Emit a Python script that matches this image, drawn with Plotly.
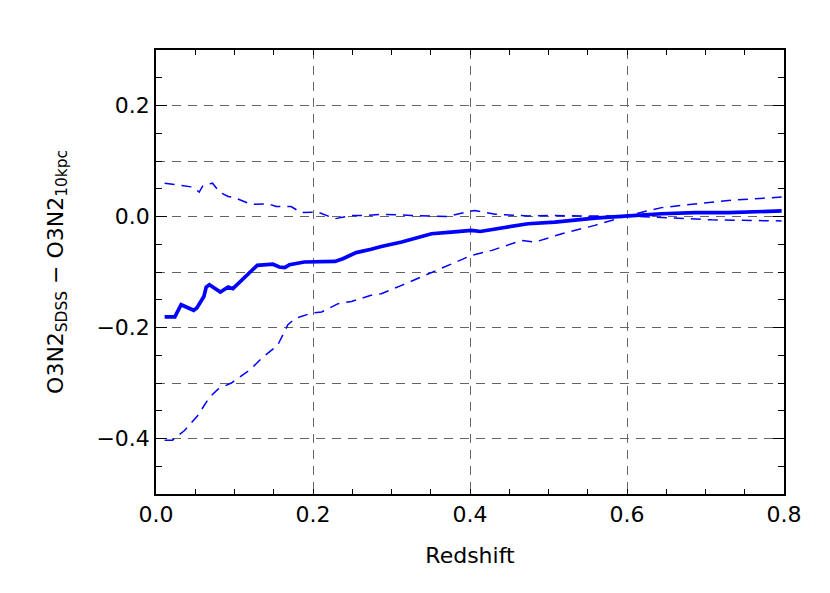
import plotly.graph_objects as go

# median difference vs redshift
z_med = [0.011, 0.024, 0.032, 0.048, 0.052, 0.061, 0.064, 0.068, 0.082, 0.092, 0.098,
         0.129, 0.149, 0.157, 0.164, 0.170, 0.189, 0.228, 0.238, 0.245, 0.255, 0.274,
         0.287, 0.313, 0.351, 0.376, 0.402, 0.413, 0.444, 0.474, 0.508, 0.542, 0.559,
         0.602, 0.644, 0.687, 0.729, 0.797]
d_med = [-0.181, -0.181, -0.159, -0.169, -0.165, -0.144, -0.127, -0.123, -0.136, -0.127, -0.130,
         -0.088, -0.086, -0.091, -0.092, -0.087, -0.082, -0.081, -0.076, -0.072, -0.065, -0.059,
         -0.054, -0.046, -0.031, -0.028, -0.025, -0.027, -0.020, -0.013, -0.010, -0.005, -0.003,
         0.001, 0.005, 0.007, 0.007, 0.010]

# upper envelope
z_up = [0.011, 0.036, 0.047, 0.055, 0.060, 0.072, 0.081, 0.092, 0.100, 0.121, 0.143,
        0.153, 0.172, 0.185, 0.206, 0.228, 0.249, 0.270, 0.287, 0.325, 0.372, 0.389,
        0.406, 0.432, 0.474, 0.500, 0.542, 0.602, 0.644, 0.708, 0.797]
d_up = [0.060, 0.056, 0.053, 0.044, 0.056, 0.060, 0.044, 0.036, 0.034, 0.022, 0.023,
        0.018, 0.018, 0.007, 0.008, -0.004, 0.002, 0.002, 0.004, 0.002, 0.000, 0.006,
        0.011, 0.004, 0.001, 0.002, 0.001, 0.001, -0.002, -0.006, -0.008]

# lower envelope
z_lo = [0.011, 0.021, 0.036, 0.053, 0.068, 0.079, 0.096, 0.121, 0.134, 0.155, 0.168,
        0.177, 0.198, 0.211, 0.232, 0.249, 0.274, 0.287, 0.313, 0.347, 0.381, 0.402,
        0.428, 0.453, 0.466, 0.483, 0.517, 0.559, 0.602, 0.644, 0.687, 0.729, 0.797]
d_lo = [-0.403, -0.403, -0.386, -0.359, -0.326, -0.311, -0.300, -0.275, -0.256, -0.232, -0.195,
        -0.184, -0.174, -0.172, -0.157, -0.153, -0.142, -0.139, -0.124, -0.103, -0.082, -0.070,
        -0.061, -0.049, -0.043, -0.046, -0.031, -0.016, 0.002, 0.016, 0.023, 0.029, 0.035]

y_grid = [-0.4, -0.3, -0.2, -0.1, 0.0, 0.1, 0.2]
y_ticks = [-0.4, -0.2, 0.0, 0.2]
y_labels = ["\u22120.4", "\u22120.2", "0.0", "0.2"]
x_ticks = [0.0, 0.2, 0.4, 0.6, 0.8]
x_labels = ["0.0", "0.2", "0.4", "0.6", "0.8"]

font = dict(family="DejaVu Sans", size=22, color="black")
blue = "#0000ff"
grid = dict(showgrid=True, gridcolor="#666666", gridwidth=1, griddash="9px,7px")

fig = go.Figure()
fig.add_trace(go.Scatter(x=z_up, y=d_up, mode="lines", yaxis="y2",
                         line=dict(color=blue, width=1.5, dash="10px,7px")))
fig.add_trace(go.Scatter(x=z_lo, y=d_lo, mode="lines",
                         line=dict(color=blue, width=1.5, dash="10px,7px")))
fig.add_trace(go.Scatter(x=z_med, y=d_med, mode="lines",
                         line=dict(color=blue, width=3.7)))

fig.update_layout(
    xaxis=dict(range=[0, 0.8], tickvals=x_ticks, ticktext=x_labels,
               showline=True, linecolor="black", linewidth=1.5, mirror="ticks",
               ticks="inside", ticklen=5, tickwidth=1, tickcolor="black",
               minor=dict(dtick=0.05, ticks="inside", ticklen=5, tickcolor="black", showgrid=False),
               zeroline=False, tickfont=font,
               title=dict(text="Redshift", font=font, standoff=21), **grid),
    yaxis=dict(range=[-0.5, 0.3], tickvals=y_ticks, ticktext=y_labels,
               showline=True, linecolor="black", linewidth=1.5, mirror="ticks",
               ticks="inside", ticklen=11, tickwidth=1, tickcolor="black",
               minor=dict(dtick=0.05, ticks="inside", ticklen=6, tickcolor="black", showgrid=False),
               zeroline=False, showgrid=False, tickfont=font, automargin=False,
               title=dict(text="O3N2<sub>SDSS</sub> \u2212 O3N2<sub>10kpc</sub>",
                          font=font, standoff=27)),
    yaxis2=dict(range=[-0.5, 0.3], overlaying="y", side="left", tickvals=y_grid,
                showticklabels=False, ticks="", showline=False, zeroline=False, **grid),
    width=830, height=593, showlegend=False,
    plot_bgcolor="white", paper_bgcolor="white",
    margin=dict(l=148, r=54, t=42, b=107),
)

fig.write_html("out.html")
